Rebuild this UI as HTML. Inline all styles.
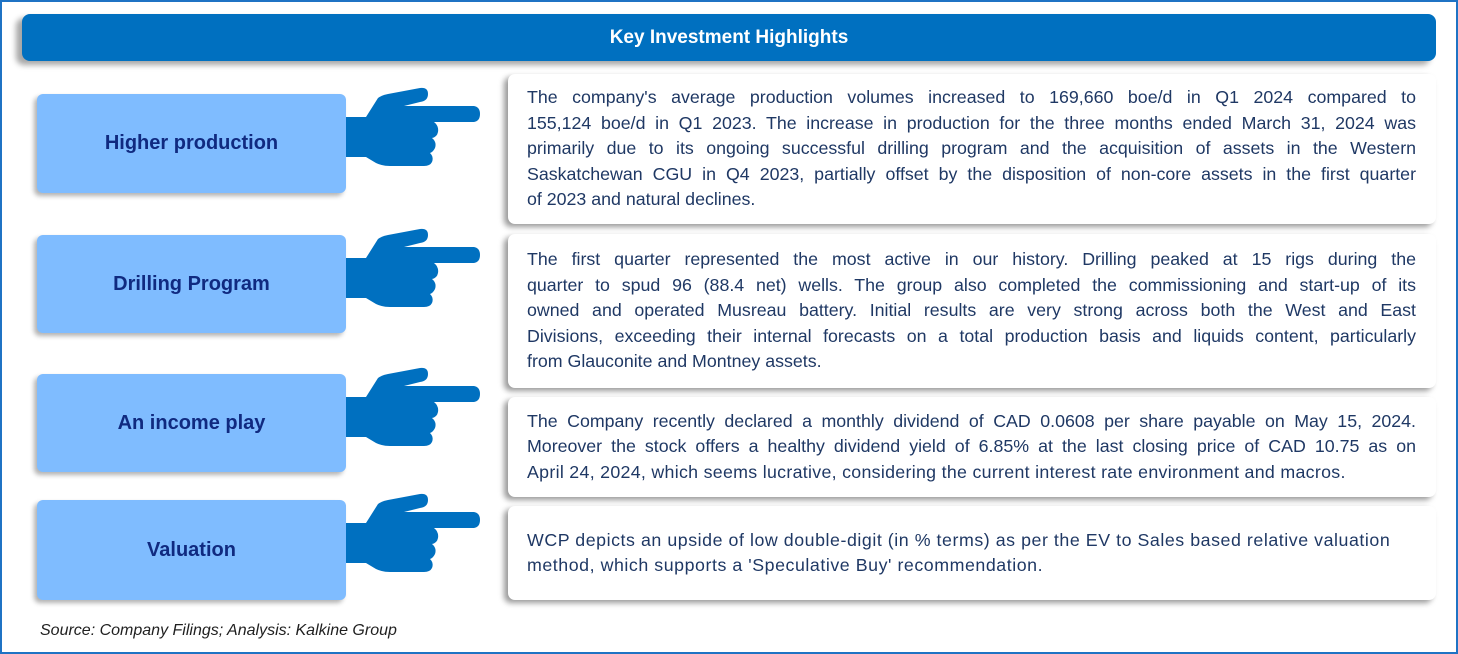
<!DOCTYPE html>
<html><head><meta charset="utf-8">
<style>
*{margin:0;padding:0;box-sizing:border-box}
body{width:1458px;height:654px;background:#fff;position:relative;overflow:hidden;font-family:"Liberation Sans",sans-serif}
.frame{position:absolute;left:0;top:0;width:1458px;height:654px;border:2px solid #1f73c4}
.header{position:absolute;left:22px;top:14px;width:1414px;height:47px;background:#0070c0;border-radius:8px;box-shadow:-6px 4px 6px rgba(0,0,0,.35);color:#fff;font-weight:bold;font-size:19px;display:flex;align-items:center;justify-content:center}
.label{position:absolute;left:37px;width:309px;background:#7fbcff;border-radius:6px;box-shadow:-3px 3px 5px rgba(0,0,0,.3);color:#102a80;font-weight:bold;font-size:20px;display:flex;align-items:center;justify-content:center}
.box{position:absolute;left:508px;width:928px;background:#fff;border-radius:7px;box-shadow:-4px 3px 6px rgba(0,0,0,.4);color:#1f3864;font-size:17.8px;line-height:25.5px;padding:0 20px 0 19px;display:flex;flex-direction:column;justify-content:center}
.box span{display:block;white-space:nowrap;text-align:justify;text-align-last:justify}
.box span.l{text-align:left;text-align-last:left}
.hand{position:absolute;left:346px;width:140px;height:100px}
.src{position:absolute;left:40px;top:622px;font-style:italic;font-size:16px;color:#1f1f1f}
</style></head><body>
<div class="frame"></div>
<div class="header">Key Investment Highlights</div>

<div class="label" style="top:94px;height:99px">Higher production</div>
<div class="label" style="top:235px;height:98px">Drilling Program</div>
<div class="label" style="top:374px;height:98px">An income play</div>
<div class="label" style="top:500px;height:100px">Valuation</div>

<svg class="hand" style="top:86px" viewBox="0 0 140 100"><use href="#h"/></svg>
<svg class="hand" style="top:227px" viewBox="0 0 140 100"><use href="#h"/></svg>
<svg class="hand" style="top:366px" viewBox="0 0 140 100"><use href="#h"/></svg>
<svg class="hand" style="top:492px" viewBox="0 0 140 100"><use href="#h"/></svg>
<svg width="0" height="0" style="position:absolute"><defs><g id="h"><path fill="#0070c0" d="M0 31 L20 31 L32 12 Q36 9 42 8 L74 2 Q82 1 82 8 Q82 15 74 16 L58 20 L128 20 Q134 21 134 28 Q134 35 128 36 L88 36 Q93 40 92 46 Q91 51 86 52 Q91 56 89 62 Q87 66 84 67 Q88 71 86 76 Q84 80 78 80 L44 80 Q36 80 30 77 L20 71 L0 71 Z"/></g></defs></svg>

<div class="box" style="top:74px;height:150px">
<span>The company's average production volumes increased to 169,660 boe/d in Q1 2024 compared to</span>
<span>155,124 boe/d in Q1 2023. The increase in production for the three months ended March 31, 2024 was</span>
<span>primarily due to its ongoing successful drilling program and the acquisition of assets in the Western</span>
<span>Saskatchewan CGU in Q4 2023, partially offset by the disposition of non-core assets in the first quarter</span>
<span class="l">of 2023 and natural declines.</span>
</div>
<div class="box" style="top:234px;height:154px">
<span>The first quarter represented the most active in our history. Drilling peaked at 15 rigs during the</span>
<span>quarter to spud 96 (88.4 net) wells. The group also completed the commissioning and start-up of its</span>
<span>owned and operated Musreau battery. Initial results are very strong across both the West and East</span>
<span>Divisions, exceeding their internal forecasts on a total production basis and liquids content, particularly</span>
<span class="l">from Glauconite and Montney assets.</span>
</div>
<div class="box" style="top:397px;height:100px">
<span>The Company recently declared a monthly dividend of CAD 0.0608 per share payable on May 15, 2024.</span>
<span>Moreover the stock offers a healthy dividend yield of 6.85% at the last closing price of CAD 10.75 as on</span>
<span class="l" style="letter-spacing:0.3px">April 24, 2024, which seems lucrative, considering the current interest rate environment and macros.</span>
</div>
<div class="box" style="top:506px;height:94px">
<span class="l" style="letter-spacing:0.55px">WCP depicts an upside of low double-digit (in % terms) as per the EV to Sales based relative valuation</span>
<span class="l" style="letter-spacing:0.55px">method, which supports a 'Speculative Buy' recommendation.</span>
</div>

<div class="src">Source: Company Filings; Analysis: Kalkine Group</div>
</body></html>
